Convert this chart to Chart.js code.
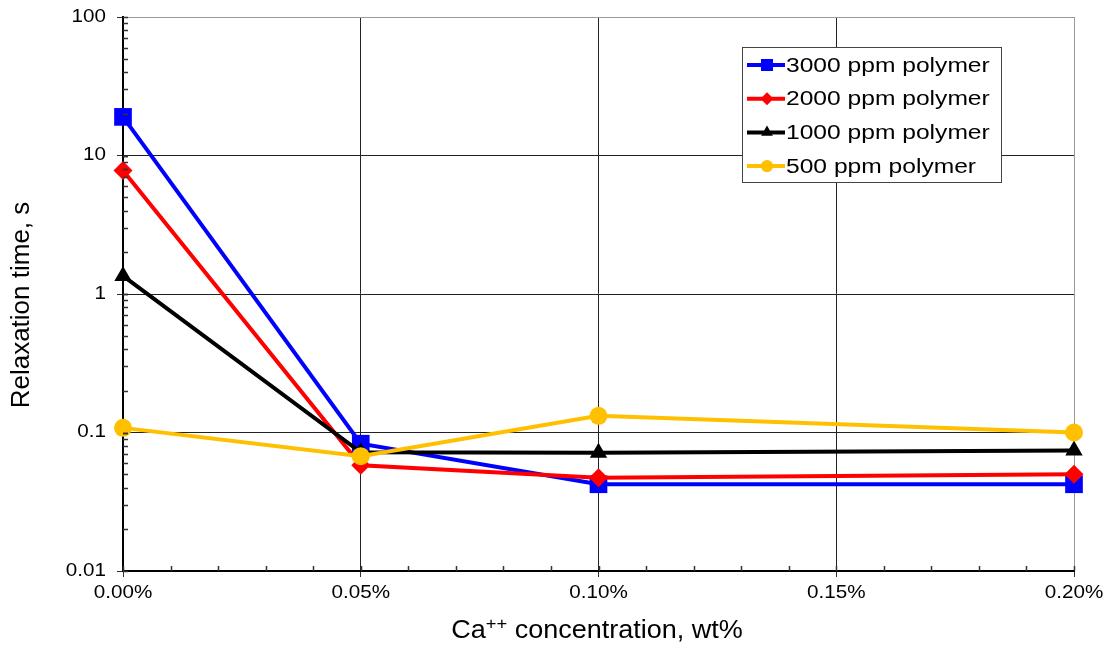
<!DOCTYPE html>
<html>
<head>
<meta charset="utf-8">
<script src="https://cdn.jsdelivr.net/npm/chart.js@4"></script>
<style>
  html, body { margin: 0; padding: 0; background: #fff; }
  canvas { display: block; }
</style>
</head>
<body>
<canvas id="chart" width="1109" height="646"></canvas>
<script>
'use strict';

// Ca++ concentration, wt%
const concentrations = [0, 0.05, 0.10, 0.20];
const seriesNames = ['3000 ppm polymer', '2000 ppm polymer', '1000 ppm polymer', '500 ppm polymer'];
const relax3000 = [19, 0.083, 0.0423, 0.0423];
const relax2000 = [7.8, 0.058, 0.0472, 0.0499];
const relax1000 = [1.35, 0.072, 0.0715, 0.074];
const relax500 = [0.108, 0.0674, 0.132, 0.100];
const xTicks = [0, 0.05, 0.10, 0.15, 0.20];
const yTicks = [0.01, 0.1, 1, 10, 100];
const yTickLabels = ['0.01', '0.1', '1', '10', '100'];
const yTitle = 'Relaxation time, s';
const xTitle = ['Ca', '++', ' concentration, wt%'];

const FONT = "'Liberation Sans', Arial, sans-serif";
const STRETCH = 1.18; // the original text is drawn a bit wide
const colors = ['#0000FF', '#FF0000', '#000000', '#FFC000'];
const styles = ['rect', 'rectRot', 'triangle', 'circle'];
const radii = [12.5, 9.5, 10, 9];
const allSeries = [relax3000, relax2000, relax1000, relax500];

const datasets = allSeries.map((vals, i) => ({
  label: seriesNames[i],
  data: vals.map((v, j) => ({x: concentrations[j], y: v})),
  borderColor: colors[i],
  backgroundColor: colors[i],
  borderWidth: 4,
  pointStyle: styles[i],
  pointRadius: radii[i],
  pointBorderWidth: 0,
  tension: 0,
  clip: false,
  order: allSeries.length - 1 - i
}));

function wideText(ctx, text, x, y, align, stretch) {
  ctx.save();
  ctx.translate(x, y);
  ctx.scale(stretch || STRETCH, 1);
  ctx.textAlign = align;
  ctx.fillText(text, 0, 0);
  ctx.restore();
}

// inside minor ticks, tick labels, titles, legend box
const extras = {
  id: 'extras',
  afterDraw(chart) {
    const ctx = chart.ctx;
    const xs = chart.scales.x, ys = chart.scales.y;
    const area = chart.chartArea;
    ctx.save();
    ctx.strokeStyle = '#333';
    ctx.lineWidth = 1.5;
    for (let d = -2; d <= 1; d++) {
      for (let k = 1; k <= 10; k++) {
        const py = Math.round(ys.getPixelForValue(k * Math.pow(10, d))) + 0.5;
        ctx.beginPath();
        ctx.moveTo(area.left, py);
        ctx.lineTo(area.left + 5, py);
        ctx.stroke();
      }
    }
    for (let k = 0; k <= 20; k++) {
      const px = Math.round(xs.getPixelForValue(k * 0.01)) + 0.5;
      ctx.beginPath();
      ctx.moveTo(px, area.bottom);
      ctx.lineTo(px, area.bottom - 5);
      ctx.stroke();
    }

    // tick labels
    ctx.fillStyle = '#000';
    ctx.font = '17.5px ' + FONT;
    ctx.textBaseline = 'middle';
    yTicks.forEach((v, i) => {
      wideText(ctx, yTickLabels[i], area.left - 17, ys.getPixelForValue(v), 'right');
    });
    xTicks.forEach(v => {
      wideText(ctx, v.toFixed(2) + '%', xs.getPixelForValue(v), area.bottom + 22, 'center');
    });

    // axis titles
    ctx.save();
    ctx.translate(22, 305);
    ctx.rotate(-Math.PI / 2);
    ctx.font = '26px ' + FONT;
    ctx.textAlign = 'center';
    ctx.fillText(yTitle, 0, 0);
    ctx.restore();

    const big = '25px ' + FONT, small = '17px ' + FONT, xs2 = 1.08;
    ctx.font = big;
    const w0 = ctx.measureText(xTitle[0]).width, w2 = ctx.measureText(xTitle[2]).width;
    ctx.font = small;
    const w1 = ctx.measureText(xTitle[1]).width;
    let tx = 597 - (w0 + w1 + w2) * xs2 / 2;
    const ty = 631;
    ctx.font = big;
    wideText(ctx, xTitle[0], tx, ty, 'left', xs2);
    tx += w0 * xs2;
    ctx.font = small;
    wideText(ctx, xTitle[1], tx, ty - 7, 'left', xs2);
    tx += w1 * xs2;
    ctx.font = big;
    wideText(ctx, xTitle[2], tx, ty, 'left', xs2);

    // legend
    const lx = 742, ly = 47, lw = 259, lh = 135, rowH = 33.7;
    ctx.fillStyle = '#fff';
    ctx.fillRect(lx, ly, lw, lh);
    ctx.strokeStyle = '#444';
    ctx.lineWidth = 1;
    ctx.strokeRect(lx + 0.5, ly + 0.5, lw, lh);
    ctx.font = '20.5px ' + FONT;
    chart.data.datasets.forEach((ds, i) => {
      const cy = ly + 18 + i * rowH;
      ctx.strokeStyle = ds.borderColor;
      ctx.lineWidth = 4;
      ctx.beginPath();
      ctx.moveTo(lx + 5, cy);
      ctx.lineTo(lx + 43, cy);
      ctx.stroke();
      ctx.fillStyle = ds.backgroundColor;
      Chart.helpers.drawPoint(ctx, {pointStyle: ds.pointStyle, radius: ds.pointRadius * 0.68, rotation: 0, borderWidth: 0}, lx + 25, cy);
      ctx.fillStyle = '#000';
      wideText(ctx, ds.label, lx + 44, cy + 1, 'left', 1.2);
    });
    ctx.restore();
  }
};

new Chart(document.getElementById('chart').getContext('2d'), {
  type: 'line',
  data: {datasets: datasets},
  plugins: [extras],
  options: {
    responsive: false,
    animation: false,
    devicePixelRatio: 1,
    layout: {padding: {top: 17, right: 35, left: 0, bottom: 0}},
    plugins: {legend: {display: false}, tooltip: {enabled: false}},
    scales: {
      x: {
        type: 'linear',
        min: 0,
        max: 0.2,
        afterBuildTicks(scale) {
          scale.ticks = xTicks.map(v => ({value: v}));
        },
        afterFit(scale) { scale.height = 75; },
        ticks: {display: false},
        grid: {
          color: ctx => ctx.index === xTicks.length - 1 ? '#999' : '#222',
          lineWidth: 1,
          tickColor: '#333',
          tickLength: 6
        },
        border: {color: '#000', width: 2}
      },
      y: {
        type: 'logarithmic',
        min: 0.01,
        max: 100,
        afterBuildTicks(scale) {
          scale.ticks = yTicks.map(v => ({value: v}));
        },
        afterFit(scale) { scale.width = 123; },
        ticks: {display: false},
        grid: {
          color: ctx => ctx.tick && ctx.tick.value === 100 ? '#999' : '#222',
          lineWidth: 1,
          tickColor: '#333',
          tickLength: 6
        },
        border: {color: '#000', width: 2}
      }
    }
  }
});
</script>
</body>
</html>
